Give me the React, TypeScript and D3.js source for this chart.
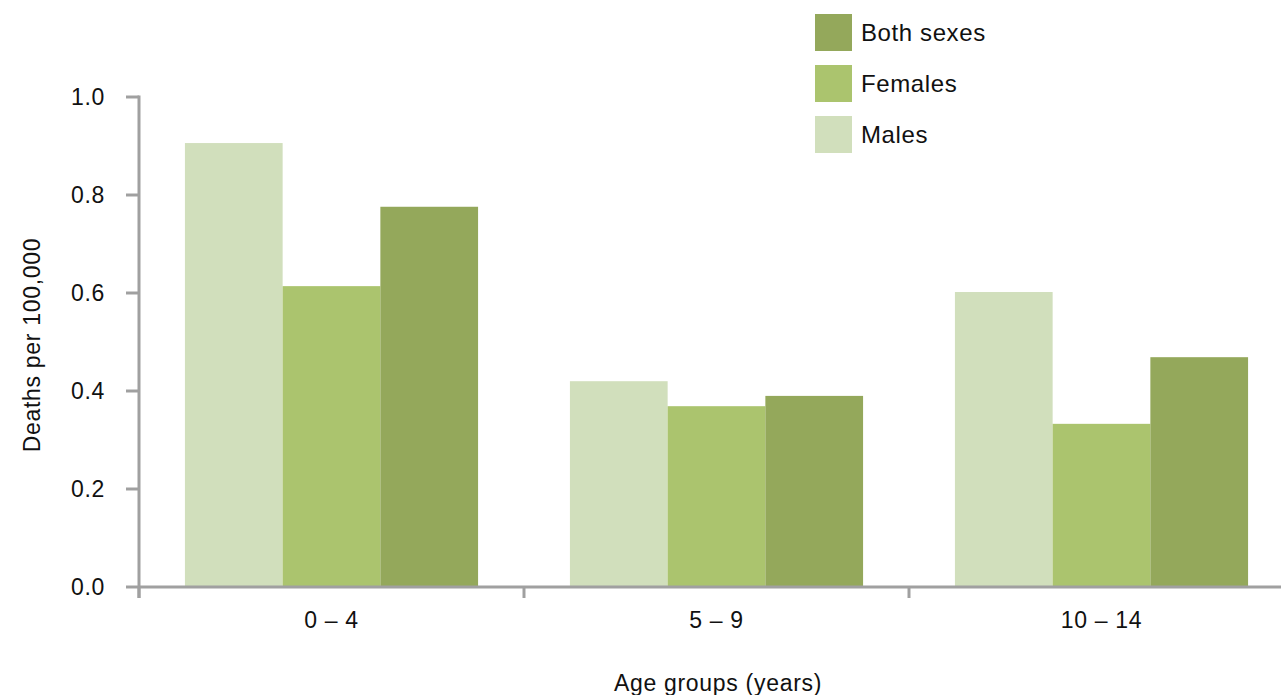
import React from "react";
import * as d3 from "d3";

const ageGroups = ["0 – 4", "5 – 9", "10 – 14"];
const seriesNames = ["Males", "Females", "Both sexes"];
const males = [0.906, 0.42, 0.602];
const females = [0.614, 0.369, 0.333];
const bothSexes = [0.776, 0.39, 0.469];
const yTicks = [0, 0.2, 0.4, 0.6, 0.8, 1.0];
const legendOrder = ["Both sexes", "Females", "Males"];

const colors: Record<string, string> = {
  Males: "#d1dfbc",
  Females: "#abc46e",
  "Both sexes": "#94a85b",
};

const W = 1281;
const H = 695;
const axisColor = "#a0a0a0";
const font = "'Liberation Sans', Arial, Helvetica, sans-serif";
const fs = 23;
const ls = 0.7;

export default function App() {
  const values: Record<string, number[]> = {
    Males: males,
    Females: females,
    "Both sexes": bothSexes,
  };

  const x0 = d3.scaleBand<string>().domain(ageGroups).range([139, 1294]).padding(0);
  const x1 = d3
    .scaleBand<string>()
    .domain(seriesNames)
    .range([0, x0.bandwidth()])
    .paddingInner(0)
    .paddingOuter(0.47);
  const y = d3.scaleLinear().domain([0, 1]).range([587, 97]);

  const axisLeft = 139;
  const boundaryTicks = ageGroups.map((g) => x0(g)!);

  return (
    <svg
      width={W}
      height={H}
      style={{ position: "absolute", left: 0, top: 0, background: "#fff" }}
      fontFamily={font}
    >
      {/* bars */}
      {ageGroups.map((g, i) => (
        <g key={g} transform={`translate(${x0(g)},0)`}>
          {seriesNames.map((s) => (
            <rect
              key={s}
              x={x1(s)}
              y={y(values[s][i])}
              width={x1.bandwidth()}
              height={y(0) - y(values[s][i])}
              fill={colors[s]}
            />
          ))}
        </g>
      ))}

      {/* y axis */}
      <line x1={axisLeft} x2={axisLeft} y1={y(1) - 1.5} y2={y(0) + 11} stroke={axisColor} strokeWidth={3} />
      {yTicks.map((t) => (
        <g key={t}>
          <line x1={126} x2={axisLeft} y1={y(t)} y2={y(t)} stroke={axisColor} strokeWidth={3} />
          <text x={105} y={y(t)} dy="0.35em" textAnchor="end" fontSize={fs} letterSpacing={ls} fill="#111">
            {t.toFixed(1)}
          </text>
        </g>
      ))}

      {/* x axis */}
      <line x1={axisLeft} x2={W} y1={y(0)} y2={y(0)} stroke={axisColor} strokeWidth={3} />
      {boundaryTicks.map((bx, i) => (
        <line key={i} x1={bx} x2={bx} y1={y(0)} y2={y(0) + 11} stroke={axisColor} strokeWidth={3} />
      ))}
      {ageGroups.map((g) => (
        <text
          key={g}
          x={x0(g)! + x1.range()[1] / 2}
          y={620}
          dy="0.35em"
          textAnchor="middle"
          fontSize={fs}
          letterSpacing={ls}
          fill="#111"
        >
          {g}
        </text>
      ))}

      {/* axis titles */}
      <text
        transform={`translate(32,${(y(0) + y(1)) / 2 + 3}) rotate(-90)`}
        textAnchor="middle"
        dy="0.35em"
        fontSize={fs}
        letterSpacing={ls}
        fill="#111"
      >
        Deaths per 100,000
      </text>
      <text x={718} y={683} dy="0.35em" textAnchor="middle" fontSize={fs} letterSpacing={ls} fill="#111">
        Age groups (years)
      </text>

      {/* legend */}
      {legendOrder.map((s, i) => (
        <g key={s} transform={`translate(815,${14 + i * 51})`}>
          <rect width={37} height={37} fill={colors[s]} />
          <text x={46} y={19} dy="0.35em" fontSize={24} letterSpacing={0.6} fill="#111">
            {s}
          </text>
        </g>
      ))}
    </svg>
  );
}
